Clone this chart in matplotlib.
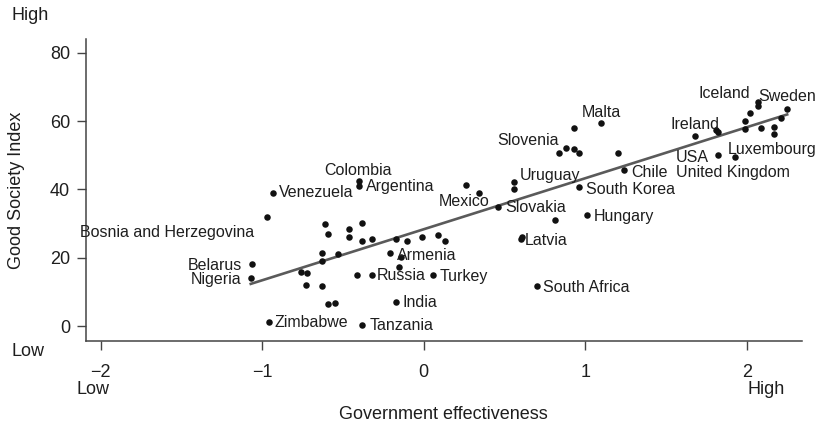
import numpy as np
import matplotlib.pyplot as plt

plt.rcParams["font.family"] = ["Liberation Sans", "DejaVu Sans"]

# Government effectiveness score and Good Society Index per country
gov_eff = [
    -0.93, -0.97, -1.06, -1.07, -0.96, -0.40, -0.40, -0.61, -0.59, -0.46,
    -0.46, -0.38, -0.38, -0.32, -0.17, -0.10, -0.01, 0.09, 0.13, -0.63,
    -0.63, -0.53, -0.21, -0.14, -0.15, -0.76, -0.72, -0.41, -0.32, 0.06,
    -0.73, -0.63, -0.59, -0.55, -0.17, -0.38, 0.26, 0.34, 0.46, 0.56,
    0.56, 0.60, 0.61, 0.70, 0.81, 1.01, 0.96, 1.24, 1.20, 0.84,
    0.88, 0.93, 0.96, 0.93, 1.10, 1.68, 1.81, 1.82, 1.82, 1.93,
    1.99, 1.99, 2.02, 2.07, 2.07, 2.09, 2.17, 2.17, 2.21, 2.25,
]
gsi = [
    39.0, 32.0, 18.1, 14.1, 1.1, 42.5, 41.1, 29.8, 27.1, 28.4,
    26.0, 30.1, 25.0, 25.4, 25.5, 25.0, 26.0, 26.6, 25.0, 21.3,
    19.1, 21.0, 21.3, 20.3, 17.2, 15.9, 15.6, 14.9, 14.9, 14.9,
    12.0, 11.7, 6.4, 6.8, 7.1, 0.3, 41.4, 39.0, 34.9, 42.1,
    40.0, 25.6, 26.0, 11.7, 31.0, 32.4, 40.7, 45.7, 50.6, 50.7,
    52.3, 51.8, 50.6, 57.9, 59.4, 55.7, 57.4, 56.9, 50.1, 49.6,
    60.0, 57.6, 62.5, 65.7, 64.5, 58.1, 58.4, 56.4, 61.0, 63.7,
]

# labelled countries: name -> index into the arrays above
labelled = {
    "Venezuela": 0, "Bosnia and Herzegovina": 1, "Belarus": 2, "Nigeria": 3,
    "Zimbabwe": 4, "Colombia": 5, "Argentina": 6, "Armenia": 22,
    "Russia": 28, "Turkey": 29, "India": 34, "Tanzania": 35,
    "Mexico": 37, "Slovakia": 38, "Uruguay": 39, "Latvia": 42,
    "South Africa": 43, "Hungary": 45, "South Korea": 46, "Chile": 47,
    "Slovenia": 50, "Malta": 54, "Ireland": 55, "USA": 58,
    "Luxembourg": 59, "United Kingdom": 59, "Iceland": 63, "Sweden": 69,
}

# label placement: (horizontal alignment, dx, dy) in pixels
placement = {
    "Venezuela": ("left", 6, 0), "Bosnia and Herzegovina": ("right", -13, -16),
    "Belarus": ("right", -10, -1), "Nigeria": ("right", -9, -2),
    "Zimbabwe": ("left", 6, 0), "Colombia": ("center", -1, 10),
    "Argentina": ("left", 7, -1), "Armenia": ("left", 7, -2),
    "Russia": ("left", 5, 0), "Turkey": ("left", 6, -1),
    "India": ("left", 6, -1), "Tanzania": ("left", 7, -1),
    "Mexico": ("right", 11, -9), "Slovakia": ("left", 7, -1),
    "Uruguay": ("left", 6, 7), "Latvia": ("left", 3, -3),
    "South Africa": ("left", 6, -1), "Hungary": ("left", 7, -1),
    "South Korea": ("left", 7, -2), "Chile": ("left", 7, -2),
    "Slovenia": ("right", -7, 7), "Malta": ("center", 0, 11),
    "Ireland": ("center", 0, 11), "USA": ("right", -9, -2),
    "Luxembourg": ("left", -8, 7), "United Kingdom": ("center", -3, -16),
    "Iceland": ("right", -8, 8), "Sweden": ("center", 0, 12),
}

x = np.array(gov_eff)
y = np.array(gsi)

fig = plt.figure(figsize=(8.22, 4.25), dpi=100)
ax = fig.add_axes([0.1046, 0.1984, 0.8707, 0.7091])

# linear fit over the observed range
slope, intercept = np.polyfit(x, y, 1)
xs = np.array([x.min(), x.max()])
ax.plot(xs, intercept + slope * xs, color="#5a5a5a", lw=1.9, zorder=2)

ax.scatter(x, y, s=22, color="#111111", zorder=3, linewidths=0)

for name, i in labelled.items():
    ha, dx, dy = placement[name]
    ax.annotate(name, (x[i], y[i]), xytext=(dx, dy), textcoords="offset pixels",
                ha=ha, va="center", fontsize=11.5, color="#1e1e1e")

ax.set_xlim(-2.09, 2.34)
ax.set_ylim(-4.3, 84)
ax.set_xticks([-2, -1, 0, 1, 2])
ax.set_yticks([0, 20, 40, 60, 80])

for side in ["top", "right"]:
    ax.spines[side].set_visible(False)
for side in ["left", "bottom"]:
    ax.spines[side].set_color("#444444")
    ax.spines[side].set_linewidth(1.1)

ax.tick_params(axis="both", direction="out", length=6.5, width=1,
               color="#444444", labelsize=13, labelcolor="#1e1e1e")
ax.tick_params(axis="x", pad=10)
ax.tick_params(axis="y", pad=5)

ax.set_xlabel("Government effectiveness", fontsize=13, color="#1e1e1e")
ax.set_ylabel("Good Society Index", fontsize=13, color="#1e1e1e")
ax.xaxis.set_label_coords(0.5, -0.2167)
ax.yaxis.set_label_coords(-0.085, 0.5)

# scale end markers
fig.text(0.0142, 0.963, "High", fontsize=13, va="center", color="#1e1e1e")
fig.text(0.0142, 0.1725, "Low", fontsize=13, va="center", color="#1e1e1e")
fig.text(0.0933, 0.0847, "Low", fontsize=13, va="center", color="#1e1e1e")
fig.text(0.9091, 0.0847, "High", fontsize=13, va="center", color="#1e1e1e")

fig.savefig("out.png", dpi=100)
plt.close(fig)
